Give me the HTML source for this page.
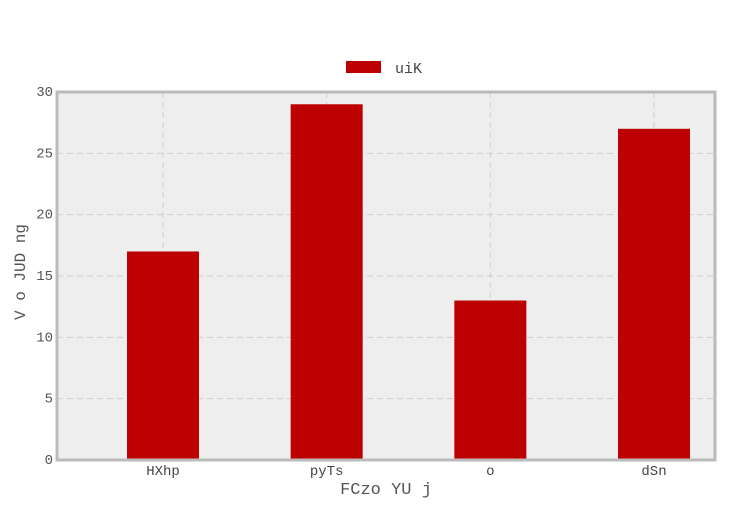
<!DOCTYPE html>
<html><head><meta charset="utf-8"><style>
body{margin:0;background:#fff;}
svg{display:block;font-family:"Liberation Mono",monospace;}
</style></head><body>
<svg id="chart" width="730" height="511"></svg>
<script>
const categories = ["HXhp","pyTs","o","dSn"];
const values = [17,29,13,27];
const yTicks = [0,5,10,15,20,25,30];
const seriesName = "uiK";

const NS="http://www.w3.org/2000/svg";
const svg=document.getElementById('chart');
const L=57,R=715,T=92,B=460,yMax=30;
const y=v=>B-(v/yMax)*(B-T);
const x=i=>163+163.67*i;
const bw=72;
function mk(tag,attrs,parent){const e=document.createElementNS(NS,tag);for(const k in attrs)e.setAttribute(k,attrs[k]);(parent||svg).appendChild(e);return e;}

const bg=mk('rect',{x:L,y:T,width:R-L,height:B-T,fill:'#eeeeee'});



yTicks.forEach(t=>{
  const g=mk('line',{x1:L,x2:R,y1:y(t),y2:y(t),stroke:'#cfcfcf','stroke-dasharray':'6,4','stroke-width':1});
  
  
  const tx=mk('text',{x:L-4,y:y(t)+4,'text-anchor':'end','font-size':14,fill:'#555'});
  tx.textContent=t;
  
  
});
categories.forEach((c,i)=>{
  const g=mk('line',{x1:x(i),x2:x(i),y1:T,y2:B,stroke:'#cfcfcf','stroke-dasharray':'6,4','stroke-width':1});
  
  
});
categories.forEach((c,i)=>{
  const b=mk('rect',{x:x(i)-bw/2,y:y(values[i]),width:bw,height:B-y(values[i]),fill:'#bd0000'});
  
  
  const tx=mk('text',{x:x(i),y:B+15,'text-anchor':'middle','font-size':14,fill:'#444'});
  tx.textContent=c;
  
  
});
const fr=mk('rect',{x:L,y:T,width:R-L,height:B-T,fill:'none',stroke:'#bbbbbb','stroke-width':3});



const xt=mk('text',{x:386,y:494,'text-anchor':'middle','font-size':17,fill:'#555'});
xt.textContent="FCzo YU j";


const yt=mk('text',{x:25,y:272,'text-anchor':'middle','font-size':16,fill:'#555',transform:'rotate(-90 25 272)','xml:space':'preserve'});
yt.textContent="V o JUD  ng";



const lg=mk('g',{});


mk('rect',{x:346,y:61,width:35,height:12,fill:'#bd0000'},lg);
const lt=mk('text',{x:395,y:73,'font-size':15,fill:'#444'},lg);
lt.textContent=seriesName;
</script>
</body></html>
